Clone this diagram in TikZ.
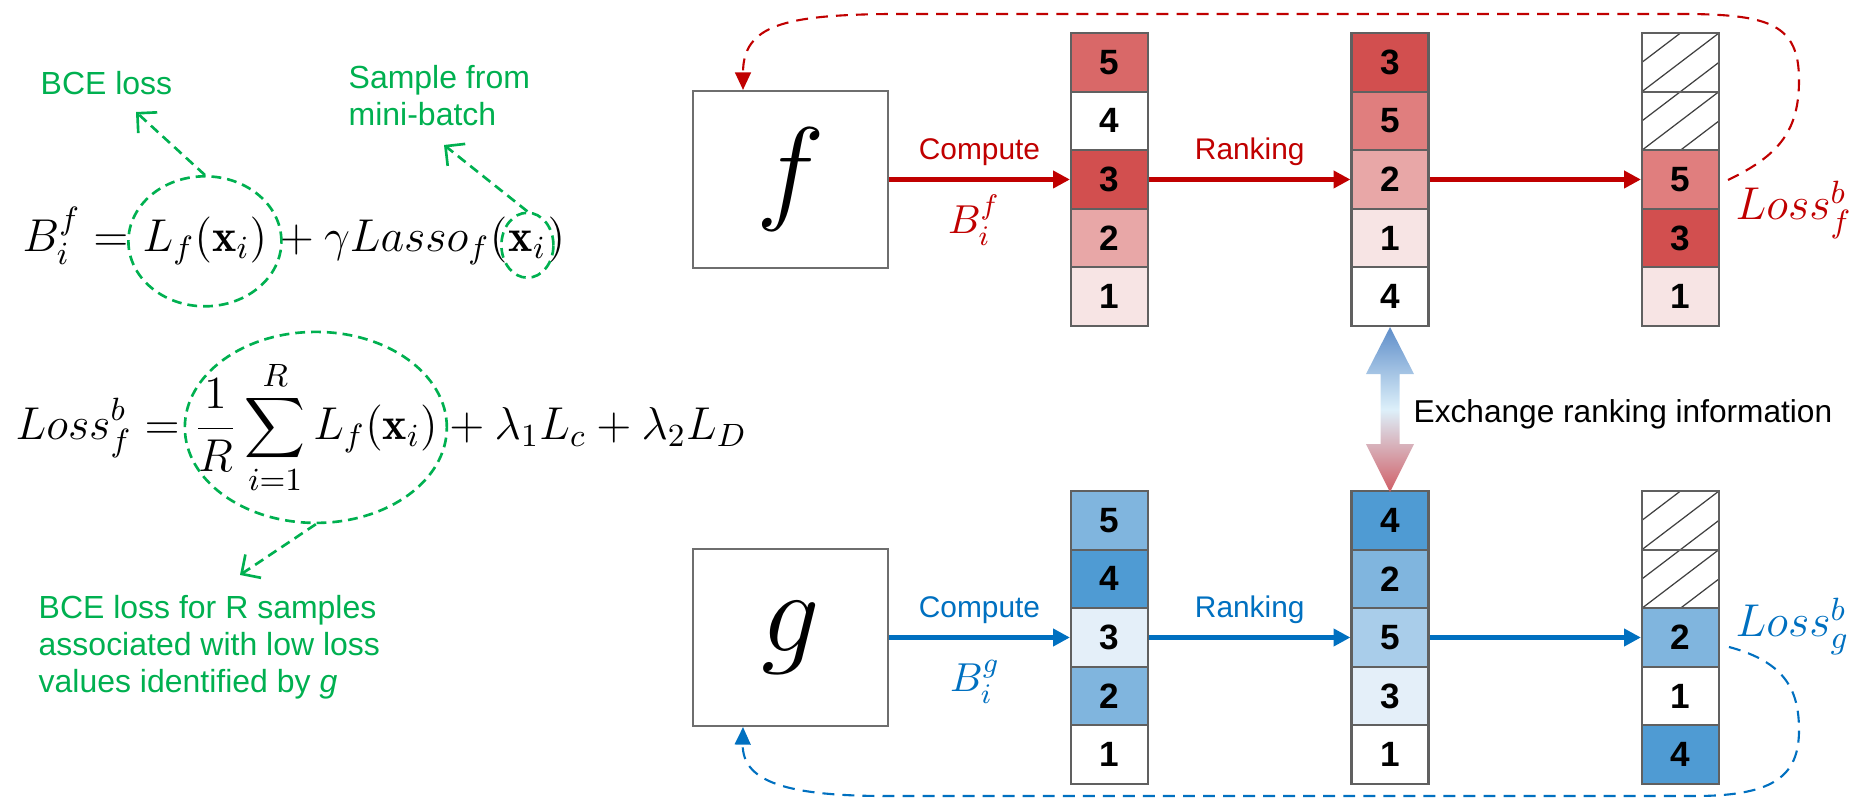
\RequirePackage{fix-cm}
\documentclass[tikz,border=0pt]{standalone}
\usepackage{amsmath}
\usepackage{fontspec}
\setsansfont{Liberation Sans}
\usepackage{tikz}
\usetikzlibrary{shapes.geometric, arrows.meta, positioning, calc}
\definecolor{fred}{HTML}{C00000}
\definecolor{gblue}{HTML}{0070C0}
\definecolor{notegreen}{HTML}{00B050}
\definecolor{cellgray}{HTML}{606060}
\definecolor{boxgray}{HTML}{6E6E6E}
\definecolor{rdeep}{HTML}{D24F4F}
\definecolor{rmid}{HTML}{D96868}
\definecolor{rsoft}{HTML}{E07E7E}
\definecolor{rlight}{HTML}{E8A7A7}
\definecolor{rpale}{HTML}{F7E4E4}
\definecolor{bdeep}{HTML}{4F9BD3}
\definecolor{bmid}{HTML}{80B5DE}
\definecolor{bsoft}{HTML}{A9CDEA}
\definecolor{bpale}{HTML}{E4EFF9}
\definecolor{xtop}{HTML}{5E8DC9}
\definecolor{xmid}{HTML}{DDF0FA}
\definecolor{xbot}{HTML}{D05E66}

\begin{document}
\begin{tikzpicture}[
    netbox/.style={rectangle, draw=boxgray, line width=0.6pt,
                   minimum width=1.95cm, minimum height=1.77cm,
                   font=\fontsize{33}{36}\selectfont},
    cell/.style={rectangle, draw=cellgray, line width=0.6pt, fill=#1,
                 minimum width=0.77cm, minimum height=0.586cm, inner sep=0pt,
                 font=\sffamily\bfseries\fontsize{10}{12}\selectfont},
    cell/.default=white,
    hatchline/.style={draw=black!75, line width=0.35pt},
    hatched/.style={cell, path picture={
        \draw[hatchline] (path picture bounding box.south west) -- (path picture bounding box.north east);
        \draw[hatchline] (path picture bounding box.west) -- (path picture bounding box.north);
        \draw[hatchline] (path picture bounding box.south) -- (path picture bounding box.east);}},
    eq/.style={inner sep=0pt, anchor=base west, font=\fontsize{13.1}{16}\selectfont},
    note/.style={inner sep=0pt, text=notegreen, align=left,
                 font=\sffamily\fontsize{9.1}{10.5}\selectfont},
    ring/.style={ellipse, draw=notegreen, line width=0.75pt,
                 dash pattern=on 2.8pt off 1.7pt, inner sep=0pt},
    pointer/.style={draw=notegreen, line width=0.75pt, dash pattern=on 2.8pt off 1.7pt,
                    -{Straight Barb[length=4pt, width=8pt]}},
    lbl/.style={font=\sffamily\fontsize{8.5}{10}\selectfont, text=#1},
    flow/.style={-{Triangle[length=4.8pt, width=4.8pt]}, line width=1.4pt, draw=#1},
    back/.style={-{Triangle[length=5pt, width=4.5pt]}, line width=0.6pt,
                 dash pattern=on 3.4pt off 2.3pt, draw=#1}
]
\useasboundingbox (0,0) rectangle (18.53,-7.98);

\node[netbox] (fnet) at (7.905,-1.795) {$f$};
\node[netbox] (gnet) at (7.905,-6.375) {$g$};

\node[cell=rmid]   (fa1) at (11.095,-0.623) {5};
\node[cell]        (fa2) at (11.095,-1.209) {4};
\node[cell=rdeep]  (fa3) at (11.095,-1.795) {3};
\node[cell=rlight] (fa4) at (11.095,-2.381) {2};
\node[cell=rpale]  (fa5) at (11.095,-2.967) {1};

\node[cell=rdeep]  (fb1) at (13.90,-0.623) {3};
\node[cell=rsoft]  (fb2) at (13.90,-1.209) {5};
\node[cell=rlight] (fb3) at (13.90,-1.795) {2};
\node[cell=rpale]  (fb4) at (13.90,-2.381) {1};
\node[cell]        (fb5) at (13.90,-2.967) {4};

\node[hatched]     (fc1) at (16.805,-0.623) {};
\node[hatched]     (fc2) at (16.805,-1.209) {};
\node[cell=rsoft]  (fc3) at (16.805,-1.795) {5};
\node[cell=rdeep]  (fc4) at (16.805,-2.381) {3};
\node[cell=rpale]  (fc5) at (16.805,-2.967) {1};

\node[cell=bmid]   (ga1) at (11.095,-5.203) {5};
\node[cell=bdeep]  (ga2) at (11.095,-5.789) {4};
\node[cell=bpale]  (ga3) at (11.095,-6.375) {3};
\node[cell=bmid]   (ga4) at (11.095,-6.961) {2};
\node[cell]        (ga5) at (11.095,-7.547) {1};

\node[cell=bdeep]  (gb1) at (13.90,-5.203) {4};
\node[cell=bmid]   (gb2) at (13.90,-5.789) {2};
\node[cell=bsoft]  (gb3) at (13.90,-6.375) {5};
\node[cell=bpale]  (gb4) at (13.90,-6.961) {3};
\node[cell]        (gb5) at (13.90,-7.547) {1};

\node[hatched]     (gc1) at (16.805,-5.203) {};
\node[hatched]     (gc2) at (16.805,-5.789) {};
\node[cell=bmid]   (gc3) at (16.805,-6.375) {2};
\node[cell]        (gc4) at (16.805,-6.961) {1};
\node[cell=bdeep]  (gc5) at (16.805,-7.547) {4};

\draw[flow=fred] (fnet) -- node[lbl=fred, above] (cmpf) {Compute} (fa3);
\draw[flow=fred] (fa3) -- node[lbl=fred, above] (rnkf) {Ranking} (fb3);
\draw[flow=fred] (fb3) -- (fc3);
\draw[flow=gblue] (gnet) -- node[lbl=gblue, above] (cmpg) {Compute} (ga3);
\draw[flow=gblue] (ga3) -- node[lbl=gblue, above] (rnkg) {Ranking} (gb3);
\draw[flow=gblue] (gb3) -- (gc3);

\node[anchor=base, inner sep=0pt, text=fred, font=\fontsize{11.5}{14}\selectfont] (bif) at (9.74,-2.335) {$B_i^f$};
\node[anchor=base, inner sep=0pt, text=gblue, font=\fontsize{11.5}{14}\selectfont] (big) at (9.75,-6.92) {$B_i^g$};

\shade[top color=xtop, bottom color=xbot, middle color=xmid]
    (fb5.south) -- ++(0.24,-0.47) -- ++(-0.145,0) -- ++(0,-0.70) -- ++(0.145,0)
    -- ++(-0.24,-0.48) -- ++(-0.24,0.48) -- ++(0.145,0) -- ++(0,0.70) -- ++(-0.145,0) -- cycle;
\node[anchor=base west, inner sep=0pt, font=\sffamily\fontsize{9}{11}\selectfont] (xchg) at (14.13,-4.23)
    {Exchange ranking information};

\node[anchor=base west, inner sep=0pt, text=fred, font=\fontsize{13.1}{16}\selectfont] (lossf) at (17.35,-2.20) {$Loss_f^b$};
\node[anchor=base west, inner sep=0pt, text=gblue, font=\fontsize{13.1}{16}\selectfont] (lossg) at (17.35,-6.37) {$Loss_g^b$};

\coordinate (fret) at (17.28,-1.80);
\coordinate (gret) at (17.29,-6.47);
\draw[back=fred] (fret) .. controls (17.80,-1.55) and (17.99,-1.30) .. (17.99,-0.80)
    .. controls (17.99,-0.25) and (17.70,-0.15) .. (16.90,-0.14) -- (8.90,-0.14)
    .. controls (7.85,-0.15) and (7.43,-0.25) .. ([xshift=-0.475cm]fnet.north);
\draw[back=gblue] (gret) .. controls (17.85,-6.62) and (17.99,-6.90) .. (17.99,-7.30)
    .. controls (17.99,-7.75) and (17.75,-7.95) .. (17.00,-7.96) -- (9.00,-7.96)
    .. controls (7.95,-7.97) and (7.42,-7.85) .. ([xshift=-0.475cm]gnet.south);

\node[eq] (eqfa) at (0.22,-2.52) {$B_i^f ={}$};
\node[eq] (eqfb) at (eqfa.base east) {$L_f(\mathbf{x}_i)$};
\node[eq] (eqfc) at (eqfb.base east) {${}+\gamma Lasso_f($};
\node[eq] (eqfd) at (eqfc.base east) {$\mathbf{x}_i$};
\node[eq] (eqfe) at (eqfd.base east) {$)$};

\node[eq] (eqla) at (0.15,-4.40) {$\displaystyle Loss_f^b ={}$};
\node[eq] (eqlb) at (eqla.base east) {$\displaystyle \frac{1}{R}\sum_{i=1}^{R} L_f(\mathbf{x}_i)$};
\node[eq] (eqlc) at (eqlb.base east) {$\displaystyle {}+\lambda_1 L_c + \lambda_2 L_D$};

\node[ring, minimum width=1.53cm, minimum height=1.30cm] (ringl) at (eqfb.center) {};
\node[ring, minimum width=0.52cm, minimum height=0.65cm] (ringx) at (eqfd.center) {};
\node[ring, minimum width=2.62cm, minimum height=1.91cm] (ringsum) at (eqlb.center) {};

\node[note, anchor=base west] (bce) at (0.40,-0.95) {BCE loss};
\node[note, anchor=north west] (smp) at (3.48,-0.65) {Sample from\\mini-batch};
\node[note, anchor=north west] (bcer) at (0.38,-5.95)
    {BCE loss for R samples\\associated with low loss\\values identified by \textit{g}};

\coordinate (bcetip) at (1.36,-1.12);
\coordinate (smptip) at (4.44,-1.45);
\coordinate (bcertip) at (2.40,-5.75);
\draw[pointer] (ringl.north) -- (bcetip);
\draw[pointer] (ringx.north) -- (smptip);
\draw[pointer] (ringsum.south) -- (bcertip);
\end{tikzpicture}
\end{document}
